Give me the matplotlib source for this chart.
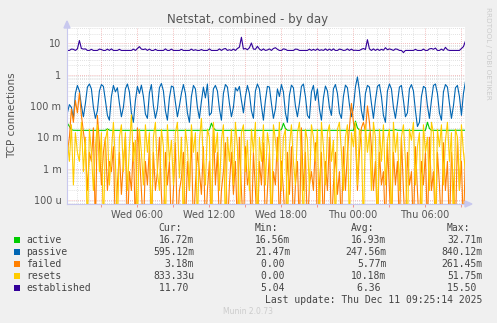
import numpy as np
import matplotlib
matplotlib.use('Agg')
import matplotlib.pyplot as plt
from matplotlib.patches import Rectangle, Polygon

W, H = 497, 323

# hours since Wed 00:00, one sample every 10 minutes
t_start = 0.2
n_points = 200
hours = t_start + np.arange(n_points) / 6.0

# values in milli-units (except established)
active = [
    28, 22, 17.5, 16.7, 16.6, 16.6, 16.6, 16.7, 16.6, 16.6, 16.6, 16.6, 16.7, 16.6, 16.6, 16.6, 16.6, 16.6, 16.6, 16.6,
    18.5, 16.8, 16.6, 16.6, 16.6, 16.6, 16.6, 16.6, 16.7, 16.6, 16.6, 16.6, 16.6, 16.6, 16.6, 16.8, 16.6, 16.6, 16.6, 16.6,
    16.6, 16.6, 16.6, 16.7, 16.6, 16.6, 16.6, 16.6, 16.6, 16.6, 16.6, 16.6, 16.6, 16.6, 16.6, 16.6, 16.7, 16.6, 16.6, 16.6,
    16.6, 16.6, 16.6, 16.6, 16.6, 16.6, 16.6, 16.6, 16.6, 16.6, 16.6, 17.2, 28, 20, 16.8, 16.6, 16.6, 16.6, 16.6, 16.6,
    16.6, 16.6, 16.6, 16.6, 16.6, 16.6, 16.6, 16.6, 16.6, 16.6, 16.6, 16.6, 16.6, 16.6, 16.6, 16.6, 16.6, 16.6, 16.6, 16.6,
    16.6, 16.6, 16.6, 16.6, 16.6, 16.6, 16.6, 17.5, 28, 19, 16.7, 16.6, 16.6, 16.6, 16.6, 16.6, 16.6, 16.6, 16.6, 16.6,
    16.6, 16.6, 16.6, 16.6, 16.6, 16.6, 16.6, 16.6, 16.6, 16.6, 16.6, 16.6, 16.6, 16.6, 16.6, 16.6, 16.6, 16.6, 16.6, 16.6,
    16.6, 16.6, 16.6, 16.6, 32.71, 20, 16.8, 16.6, 16.6, 16.6, 16.6, 16.6, 16.6, 16.6, 16.6, 16.6, 16.6, 16.6, 16.6, 16.6,
    16.6, 16.6, 16.6, 16.6, 17.5, 16.7, 16.6, 16.6, 16.6, 16.6, 16.6, 16.6, 16.6, 16.6, 16.6, 16.6, 16.6, 16.6, 16.6, 16.6,
    30, 19, 16.7, 16.6, 16.6, 16.6, 16.6, 16.6, 16.6, 16.6, 16.6, 16.6, 16.6, 16.6, 16.6, 16.6, 16.6, 16.7, 16.72, 16.72,
]

passive = [
    60, 110, 90, 40, 250, 450, 300, 100, 45, 120, 400, 500, 350, 90, 40, 70, 300, 480, 420, 150,
    50, 35, 200, 450, 280, 380, 120, 45, 90, 350, 500, 280, 60, 30, 150, 420, 250, 460, 200, 55,
    40, 260, 480, 100, 40, 80, 380, 520, 300, 70, 35, 180, 430, 400, 130, 45, 100, 250, 480, 250,
    60, 30, 200, 450, 350, 90, 40, 140, 400, 180, 500, 50, 60, 350, 450, 300, 80, 35, 250, 480,
    400, 120, 45, 90, 380, 300, 420, 150, 60, 200, 450, 250, 70, 40, 300, 500, 350, 100, 35, 150,
    420, 400, 120, 40, 80, 350, 200, 480, 280, 60, 30, 220, 460, 380, 100, 45, 120, 420, 500, 200,
    50, 40, 280, 450, 150, 350, 80, 35, 180, 430, 300, 90, 50, 350, 480, 250, 60, 40, 200, 460,
    380, 110, 45, 90, 400, 840, 300, 70, 35, 250, 450, 400, 120, 40, 150, 420, 480, 200, 50, 30,
    300, 500, 350, 90, 40, 120, 400, 450, 150, 45, 60, 350, 480, 300, 70, 22, 30, 200, 420, 380,
    100, 40, 150, 450, 500, 250, 60, 35, 280, 480, 400, 120, 40, 100, 380, 450, 200, 50, 250, 595,
]

failed = [
    3.3, 10, 80, 30, 150, 60, 261, 50, 15, 5, 0.2, 3.3, 1.7, 20, 0, 50, 6.7, 0.3, 3.3, 10,
    0.2, 1.7, 0.8, 5, 0, 0.3, 3.3, 0.15, 1.7, 10, 0, 0.8, 0.2, 6.7, 0, 20, 3.3, 0.2, 0, 1.7,
    0.3, 5, 0, 3.3, 0.2, 0.8, 10, 0.15, 0, 3.3, 0.3, 1.7, 0, 0.2, 6.7, 0, 0.2, 0.5, 3.3, 0,
    1.7, 0.2, 10, 0, 0.3, 3.3, 0.8, 0.15, 5, 0, 0.2, 1.7, 0, 20, 0.3, 3.3, 0, 0.2, 0.8, 6.7,
    0, 0.3, 3.3, 0.15, 1.7, 0, 10, 0.2, 0, 5, 0.3, 0.8, 0, 3.3, 0.2, 0, 1.7, 0.3, 6.7, 0,
    0.2, 3.3, 0, 0.8, 0.3, 10, 0, 1.7, 0.2, 0, 3.3, 0.15, 5, 0, 0.3, 1.7, 0, 20, 0.2, 3.3,
    0, 0.3, 0.8, 0.2, 6.7, 0, 0.3, 3.3, 0, 1.7, 0.2, 10, 0, 0.3, 3.3, 0.15, 0.8, 0, 5, 0.2,
    3.3, 20, 120, 30, 10, 0.2, 3.3, 20, 30, 15, 100, 30, 5, 0.2, 1.7, 0, 3.3, 0.3, 0.8, 0,
    6.7, 0.2, 0, 3.3, 0.3, 1.7, 0, 10, 0.2, 0, 3.3, 0.3, 0.8, 0, 5, 0.2, 0, 1.7, 0.3, 3.3,
    0, 10, 0.2, 0.8, 0, 3.3, 0.3, 0, 6.7, 0.2, 1.7, 0, 3.3, 0.3, 0, 10, 0.2, 1.7, 0, 3.18,
]

resets = [
    8, 1.7, 25, 0.3, 14, 3.3, 1.7, 30, 0.8, 10, 0, 18, 3.3, 0.2, 5, 25, 0.8, 14, 0, 8,
    18, 0.3, 3.3, 30, 1.7, 0, 10, 25, 0.8, 14, 0.2, 5, 51.75, 1.7, 8, 0, 18, 3.3, 0.3, 25,
    3.3, 14, 0, 10, 30, 0.8, 0.2, 18, 5, 0, 25, 1.7, 8, 0.3, 14, 30, 0.5, 10, 0, 18,
    5, 0.2, 25, 3.3, 14, 0, 8, 40, 1.7, 0.3, 18, 10, 0, 30, 3.3, 14, 0.2, 8, 25, 0,
    10, 1.7, 18, 0.3, 30, 5, 0, 14, 25, 0.8, 8, 0.2, 18, 3.3, 30, 0, 10, 1.7, 25, 0.3,
    14, 5, 0, 25, 8, 1.7, 30, 0.2, 10, 18, 0, 5, 25, 1.7, 0.3, 14, 30, 3.3, 0, 18,
    8, 0.2, 25, 10, 1.7, 18, 0, 30, 5, 0.3, 14, 25, 1.7, 8, 0, 18, 30, 3.3, 0.2, 10,
    25, 0, 14, 5, 30, 0.3, 18, 8, 0, 25, 3.3, 14, 0.2, 30, 10, 0, 18, 1.7, 25, 0.3,
    8, 18, 0, 30, 3.3, 14, 0.2, 10, 25, 1.7, 0, 18, 8, 30, 0.3, 5, 14, 0, 25, 3.3,
    10, 0.2, 30, 14, 0, 18, 5, 25, 0.3, 8, 30, 1.7, 14, 0, 18, 10, 0.2, 25, 3.3, 0.83,
]

established = [
    5.9, 5.9, 6.5, 6.4, 5.9, 6.6, 12.2, 6.8, 6.5, 6.6, 5.9, 5.9, 6.4, 5.9, 5.9, 5.9, 6.5, 6.3, 5.9, 5.9,
    6.5, 5.9, 6.6, 5.9, 5.9, 5.9, 6.4, 5.9, 5.9, 5.9, 5.9, 5.9, 5.9, 6.5, 5.9, 6.8, 7.8, 6.5, 6.3, 6.6,
    5.9, 6.5, 5.9, 5.9, 6.4, 5.9, 5.9, 5.9, 5.9, 6.6, 5.9, 5.9, 6.5, 5.9, 5.9, 5.9, 5.9, 6.4, 5.9, 5.9,
    5.9, 5.9, 6.5, 5.9, 6.2, 5.9, 5.9, 6.3, 5.9, 5.9, 5.9, 6.6, 5.9, 5.9, 5.9, 5.9, 6.6, 5.9, 6.5, 6.8,
    5.9, 6.2, 5.9, 6.5, 5.9, 6.8, 7.5, 15.5, 6.5, 6.8, 6.2, 7.2, 10.2, 6.5, 6.4, 8.0, 6.5, 5.9, 6.6, 5.9,
    6.1, 6.6, 5.9, 6.8, 7.2, 6.4, 5.9, 5.9, 6.6, 6.4, 5.9, 5.9, 5.9, 5.9, 6.5, 6.4, 5.9, 5.9, 5.9, 5.9,
    5.9, 6.5, 5.9, 6.4, 5.9, 6.6, 5.9, 6.2, 5.9, 6.6, 5.9, 6.5, 5.9, 6.6, 5.9, 5.9, 6.5, 6.3, 5.9, 6.0,
    6.6, 5.9, 6.5, 5.9, 6.0, 5.9, 5.9, 6.4, 6.8, 6.3, 13.0, 6.6, 5.9, 6.6, 5.9, 6.5, 5.9, 6.4, 6.0, 7.2,
    6.2, 6.6, 6.3, 5.9, 6.6, 6.4, 5.9, 5.9, 5.04, 5.9, 5.9, 5.9, 5.9, 5.9, 6.4, 5.9, 5.9, 5.9, 6.5, 5.9,
    5.9, 6.6, 6.8, 6.4, 7.0, 5.9, 5.9, 6.5, 5.9, 7.4, 6.2, 5.9, 5.9, 5.9, 5.9, 5.9, 5.9, 6.8, 7.8, 11.7,
]

names = ['active', 'passive', 'failed', 'resets', 'established']
colors = ['#00CC00', '#0066B3', '#FF8000', '#FFCC00', '#330099']
cur = ['16.72m', '595.12m', '3.18m', '833.33u', '11.70 ']
vmin = ['16.56m', '21.47m', '0.00 ', '0.00 ', '5.04 ']
vavg = ['16.93m', '247.56m', '5.77m', '10.18m', '6.36 ']
vmax = ['32.71m', '840.12m', '261.45m', '51.75m', '15.50 ']

time_ticks = [6, 12, 18, 24, 30]
time_labels = ['Wed 06:00', 'Wed 12:00', 'Wed 18:00', 'Thu 00:00', 'Thu 06:00']
y_ticks = [1e-4, 1e-3, 1e-2, 1e-1, 1, 10]
y_labels = ['100 u', '1 m', '10 m', '100 m', '1', '10']

BG = '#F0F0F0'
TXT = '#555555'

fig = plt.figure(figsize=(W / 100, H / 100), dpi=100, facecolor=BG)

# plot area in pixels
x0, x1, y_top, y_bot = 67, 465, 27, 204
ax = fig.add_axes([x0 / W, 1 - y_bot / H, (x1 - x0) / W, (y_bot - y_top) / H])
ax.set_facecolor('white')
ax.set_yscale('log')
ax.set_xlim(0.167, 33.33)
ax.set_ylim(7.4e-5, 33)

# grid
for h in range(1, 34):
    c = '#F0A8A8' if h % 3 == 0 else '#D8D8D8'
    ax.axvline(h, color=c, lw=0.6, ls=(0, (1, 1.5)), zorder=0)
for dec in range(-5, 2):
    for k in range(1, 10):
        v = k * 10.0 ** dec
        c = '#F0A8A8' if k == 1 else '#D8D8D8'
        ax.axhline(v, color=c, lw=0.6, ls=(0, (1, 1.5)), zorder=0)

series = [np.array(active) * 1e-3, np.array(passive) * 1e-3,
          np.array(failed) * 1e-3, np.array(resets) * 1e-3, np.array(established)]
for vals, col in zip(series, colors):
    vals = np.where(vals > 0, vals, 1e-5)
    ax.plot(hours, vals, color=col, lw=0.8, zorder=2)

ax.set_xticks(time_ticks)
ax.set_xticklabels(time_labels)
ax.set_xticks(list(range(3, 34, 3)), minor=True)
ax.set_yticks(y_ticks)
ax.set_yticklabels(y_labels)
ax.yaxis.set_minor_locator(matplotlib.ticker.NullLocator())
ax.tick_params(axis='both', which='both', labelsize=7, colors=TXT, length=2, width=0.6, pad=2)
ax.tick_params(axis='x', which='both', color='#F08080')
ax.tick_params(axis='y', which='both', length=0, pad=4)
for s in ['top', 'right']:
    ax.spines[s].set_visible(False)
for s in ['left', 'bottom']:
    ax.spines[s].set_color('#C8C8EE')
    ax.spines[s].set_linewidth(0.8)


def fx(px):
    return px / W


def fy(py):
    return 1 - py / H


# axis arrows
fig.patches.append(Polygon([[fx(64), fy(28)], [fx(70), fy(28)], [fx(67), fy(21)]],
                           closed=True, transform=fig.transFigure, color='#C8C8EE'))
fig.patches.append(Polygon([[fx(465), fy(201)], [fx(465), fy(207)], [fx(472), fy(204)]],
                           closed=True, transform=fig.transFigure, color='#C8C8EE'))

fig.text(fx(248), fy(19), 'Netstat, combined - by day', ha='center', va='center',
         fontsize=8.5, color=TXT)
fig.text(fx(12), fy(115), 'TCP connections', ha='center', va='center',
         rotation=90, fontsize=7.5, color=TXT)
fig.text(fx(488), fy(53), 'RRDTOOL / TOBI OETIKER', ha='center', va='center',
         rotation=270, fontsize=5.2, color='#CCCCCC')

mono = dict(family='DejaVu Sans Mono', fontsize=7, color='#444444', va='center')
row0 = 228
fig.text(fx(158), fy(row0), 'Cur:', ha='left', **mono)
fig.text(fx(255), fy(row0), 'Min:', ha='left', **mono)
fig.text(fx(351), fy(row0), 'Avg:', ha='left', **mono)
fig.text(fx(447), fy(row0), 'Max:', ha='left', **mono)
for i, name in enumerate(names):
    yy = row0 + 12 * (i + 1)
    fig.patches.append(Rectangle((fx(14), fy(yy + 3)), 6 / W, 6 / H,
                                 transform=fig.transFigure, facecolor=colors[i],
                                 edgecolor='none'))
    fig.text(fx(26), fy(yy), name, ha='left', **mono)
    fig.text(fx(194), fy(yy), cur[i], ha='right', **mono)
    fig.text(fx(290.5), fy(yy), vmin[i], ha='right', **mono)
    fig.text(fx(386.5), fy(yy), vavg[i], ha='right', **mono)
    fig.text(fx(482.5), fy(yy), vmax[i], ha='right', **mono)
fig.text(fx(482.5), fy(row0 + 72), 'Last update: Thu Dec 11 09:25:14 2025', ha='right', **mono)
fig.text(fx(248), fy(312), 'Munin 2.0.73', ha='center', va='center',
         fontsize=5.5, color='#CCCCCC')

fig.savefig('out.png', dpi=100, facecolor=BG)
